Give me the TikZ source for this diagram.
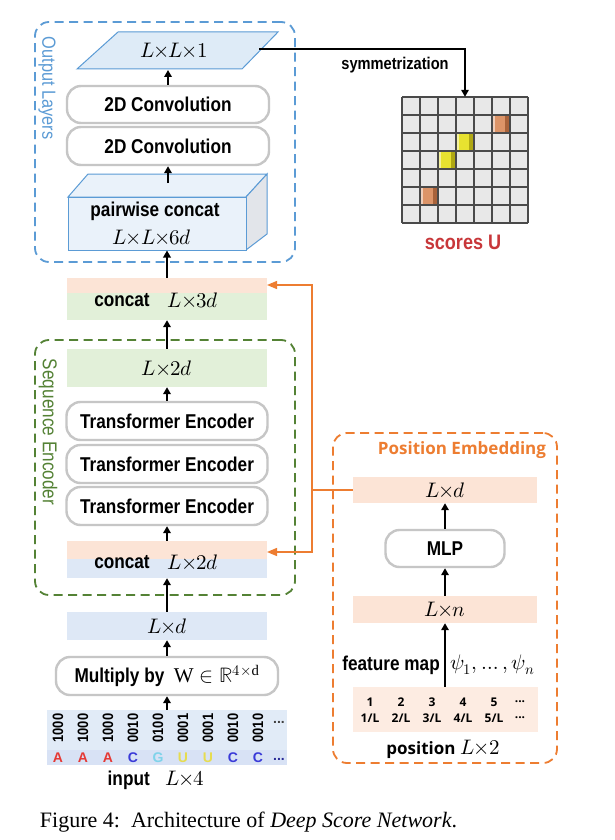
\documentclass[tikz,border=0pt]{standalone}
\usepackage{unicode-math}
\setmathfont{Latin Modern Math}
\setmainfont{Liberation Serif}
\newfontfamily\cf[FakeStretch=0.86]{Liberation Sans}
\newfontfamily\pf{Open Sans}
\usetikzlibrary{arrows.meta}
\newcommand\mytimes{\mkern-1mu{\times}\mkern-1mu}
\definecolor{oblue}{HTML}{5B9BD5}
\definecolor{ogreen}{HTML}{548235}
\definecolor{oorange}{HTML}{ED7D31}
\definecolor{barO}{HTML}{FCE4D6}
\definecolor{barG}{HTML}{E2F0D9}
\definecolor{barB}{HTML}{DEE8F6}
\definecolor{boxgray}{HTML}{C6C6C6}
\definecolor{paraFill}{HTML}{DEEBF7}
\definecolor{pwFill}{HTML}{EAF2FA}
\definecolor{sideFill}{HTML}{E2E5EA}
\definecolor{cellG}{HTML}{E8E8E8}
\definecolor{gridL}{HTML}{4A4A4A}
\definecolor{scoreRed}{HTML}{C8373A}
\definecolor{nA}{HTML}{E53935}
\definecolor{nC}{HTML}{3A3AD8}
\definecolor{nG}{HTML}{7FD3EA}
\definecolor{nU}{HTML}{E6DC50}
\definecolor{inTop}{HTML}{E1EBF7}
\definecolor{inBot}{HTML}{D8E2F5}
\definecolor{cO}{HTML}{DC9468}
\definecolor{cOd}{HTML}{A8623A}
\definecolor{cY}{HTML}{E8E230}
\definecolor{cYd}{HTML}{B0A814}
\tikzset{
  grp/.style={draw, dash pattern=on 9pt off 5.5pt, line width=1.8pt, rounded corners=14pt, inner sep=0pt},
  rbox/.style={draw=boxgray, line width=2.4pt, fill=white, rounded corners=14pt, inner sep=0pt,
    font=\cf\bfseries\fontsize{20}{24}\selectfont},
  bar/.style={inner sep=0pt, draw=none, font=\fontsize{21}{24}\selectfont},
  mathlbl/.style={inner sep=0pt, font=\fontsize{21}{24}\selectfont},
  lbl/.style={inner sep=0pt, font=\cf\bfseries\fontsize{20}{24}\selectfont},
  arr/.style={line width=1.8pt, -{Triangle[length=7pt,width=7.5pt]}},
  oarr/.style={draw=oorange, line width=1.3pt, -{Triangle[length=10pt,width=8pt]}},
  oline/.style={draw=oorange, line width=1.3pt},
  numlbl/.style={inner sep=0pt, font=\cf\bfseries\fontsize{15}{17}\selectfont},
  letlbl/.style={inner sep=0pt, font=\fontspec{Liberation Sans}\bfseries\fontsize{14}{16}\selectfont},
  posnum/.style={inner sep=0pt, font=\pf\bfseries\fontsize{12}{14}\selectfont},
}
\begin{document}
\begin{tikzpicture}[x=1pt,y=-1pt]
\useasboundingbox (0,0) rectangle (614,840);
\fill[white] (0,0) rectangle (614,840);

% ---------- Output layers ----------
\node[grp, draw=oblue, minimum width=260pt, minimum height=240pt] (outgrp) at (165,142) {};
\node[rotate=-90, text=oblue, inner sep=0pt, font=\cf\fontsize{19}{22}\selectfont] (outlbl) at (47,88) {Output Layers};

\draw[draw=oblue, fill=paraFill, line width=1pt] (118,32) -- (278,32) -- (242,69) -- (77,69) -- cycle;
\node[mathlbl] (para) at (174,50) {$L\mytimes L\mytimes 1$};
\coordinate (paraB) at (168,70);
\coordinate (paraR) at (259,49);

\node[rbox, minimum width=202pt, minimum height=37pt] (conv1) at (168,104.5) {2D Convolution};
\node[rbox, minimum width=202pt, minimum height=38pt] (conv2) at (168,146) {2D Convolution};

\filldraw[fill=pwFill, draw=oblue, line width=1pt] (68,197) -- (88,174) -- (267,174) -- (246,197) -- cycle;
\filldraw[fill=sideFill, draw=oblue, line width=1pt] (246,197) -- (267,174) -- (267,234) -- (246,250) -- cycle;
\node[draw=oblue, fill=pwFill, line width=1pt, minimum width=178pt, minimum height=53pt, inner sep=0pt] (pw) at (157,223.5) {};
\node[lbl] (pwt1) at (155,211) {pairwise concat};
\node[mathlbl] (pwt2) at (152,237) {$L\mytimes L\mytimes 6d$};
\coordinate (pwtop) at (168,183);

\draw[arr] (conv1.north) -- (paraB);
\draw[arr] (pwtop) -- (conv2.south);

% ---------- scores ----------
\node[minimum size=126pt, inner sep=0pt] (grid) at (465,160) {};
\fill[cellG] (grid.north west) rectangle (grid.south east);
\foreach \c/\r/\bs/\dk in {5/1/cO/cOd, 1/5/cO/cOd, 3/2/cY/cYd, 2/3/cY/cYd} {
  \fill[\bs] ({402+18*\c},{97+18*\r}) rectangle ++(18,18);
  \fill[\dk] ({402+18*\c+13},{97+18*\r}) rectangle ++(5,18);
  \fill[white, opacity=0.55] ({402+18*\c},{97+18*\r}) rectangle ++(2.5,18);
}
\foreach \k in {0,...,7} {
  \draw[gridL, line width=1.1pt] ({402+18*\k},97) -- ++(0,126);
  \draw[gridL, line width=1.1pt] (402,{97+18*\k}) -- ++(126,0);
}
\draw[arr, line width=1.6pt] (paraR) -| (grid.north);
\node[inner sep=0pt, font=\cf\bfseries\fontsize{17}{20}\selectfont] (symm) at (395,65) {symmetrization};
\node[inner sep=0pt, text=scoreRed, font=\cf\bfseries\fontsize{21}{24}\selectfont] (scores) at (463,242) {scores U};

% ---------- concat L x 3d ----------
\node[bar, fill=barG, minimum width=200pt, minimum height=42pt] (c3) at (167,299) {};
\fill[barO] (c3.north west) rectangle ([yshift=-15pt]c3.north east);
\node[lbl] (c3a) at (122,300) {concat};
\node[mathlbl] (c3b) at (193,300) {$L\mytimes 3d$};
\draw[arr] (c3.north) -- (c3.north |- pw.south);

% ---------- Sequence encoder ----------
\node[grp, draw=ogreen, minimum width=260pt, minimum height=255pt] (seqgrp) at (165,467.5) {};
\node[rotate=-90, text=ogreen, inner sep=0pt, font=\cf\fontsize{20}{22}\selectfont] (seqlbl) at (48,432) {Sequence Encoder};

\node[bar, fill=barG, minimum width=200pt, minimum height=38pt] (l2d) at (167,368) {$L\mytimes 2d$};
\node[rbox, minimum width=201pt, minimum height=38pt] (te1) at (167,421) {Transformer Encoder};
\node[rbox, minimum width=201pt, minimum height=38pt] (te2) at (167,464) {Transformer Encoder};
\node[rbox, minimum width=201pt, minimum height=38pt] (te3) at (167,506) {Transformer Encoder};

\node[bar, fill=barB, minimum width=200pt, minimum height=37pt] (c2) at (167,559.5) {};
\fill[barO] (c2.north west) rectangle ([yshift=-18pt]c2.north east);
\node[lbl] (c2a) at (122,562) {concat};
\node[mathlbl] (c2b) at (193,562) {$L\mytimes 2d$};

\draw[arr] (l2d.north) -- (c3.south);
\draw[arr] (te1.north) -- (l2d.south);
\draw[arr] (c2.north) -- (te3.south);

% ---------- input ----------
\node[bar, fill=barB, minimum width=200pt, minimum height=28pt] (ld) at (167,626) {$L\mytimes d$};
\node[rbox, minimum width=222pt, minimum height=38pt] (mul) at (167,676) {Multiply by \ {\fontsize{21}{24}\selectfont$\mathrm{W}\in\mathbb{R}^{4\times\mathrm{d}}$}};
\node[bar, fill=inTop, minimum width=240pt, minimum height=55pt] (inp) at (167,737.5) {};
\fill[inBot] ([yshift=15pt]inp.south west) rectangle (inp.south east);
\foreach \v [count=\i from 0] in {1000,1000,1000,0010,0100,0001,0001,0010,0010} {
  \node[numlbl, rotate=90] (num\i) at ({58+25*\i},728) {\v};
}
\foreach \l/\c [count=\i from 0] in {A/nA,A/nA,A/nA,C/nC,G/nG,U/nU,U/nU,C/nC,C/nC} {
  \node[letlbl, text=\c] (let\i) at ({58+25*\i},757.5) {\l};
}
\node[letlbl, text=black!75] (dots1) at (279,722) {...};
\node[letlbl, text=nC!70!black] (dots2) at (279,759) {...};
\node[inner sep=0pt, font=\fontsize{21}{24}\selectfont] (inlbl) at (156,780) {{\cf\bfseries\fontsize{20}{24}\selectfont input}\ \ \ $L\mytimes 4$};

\draw[arr] (ld.north) -- (c2.south);
\draw[arr] (mul.north) -- (ld.south);
\draw[arr] (inp.north) -- (mul.south);

% ---------- Position embedding ----------
\node[grp, draw=oorange, minimum width=224pt, minimum height=330pt] (posgrp) at (445,598) {};
\node[inner sep=0pt, text=oorange, font=\pf\bfseries\fontsize{17}{20}\selectfont] (postitle) at (462,450) {Position Embedding};
\node[bar, fill=barO, minimum width=184pt, minimum height=26pt] (pld) at (445,490) {$L\mytimes d$};
\node[rbox, minimum width=119pt, minimum height=37pt] (mlp) at (445,548.5) {MLP};
\node[bar, fill=barO, minimum width=184pt, minimum height=27pt] (pln) at (445,609.5) {$L\mytimes n$};
\node[bar, fill=barO!70, minimum width=185pt, minimum height=45pt] (pos) at (445,709.5) {};
\foreach \t [count=\i from 0] in {1,2,3,4,5} {
  \node[posnum] (pa\i) at ({370+31*\i},702) {\t};
  \node[posnum] (pb\i) at ({370+31*\i},718) {\t/L};
}
\node[posnum] (pa5) at (520,702) {...};
\node[posnum] (pb5) at (520,718) {...};
\node[lbl, anchor=east] (fm) at (440,665) {feature map};
\node[mathlbl, anchor=west] (psi) at (450,665) {$\psi_1,\ldots,\psi_n$};
\node[inner sep=0pt, font=\fontsize{21}{24}\selectfont] (poslbl) at (443,749) {{\pf\bfseries\fontsize{17}{20}\selectfont position} $L\mytimes 2$};

\draw[arr] (mlp.north) -- (pld.south);
\draw[arr] (pln.north) -- (mlp.south);
\draw[arr] (pos.north) -- (pln.south);

% ---------- orange connectors ----------
\coordinate (oj) at (312,490);
\coordinate (c3in) at (267,285);
\coordinate (c2in) at (267,552);
\draw[oline] (pld.west) -- (oj);
\draw[oarr] (oj) |- (c3in);
\draw[oarr] (oj) |- (c2in);

% ---------- caption ----------
\node[anchor=base, inner sep=0pt, font=\fontsize{22}{26}\selectfont] (caption) at (248.5,827) {Figure 4:\ \ Architecture of \textit{Deep Score Network}.};
\end{tikzpicture}
\end{document}
